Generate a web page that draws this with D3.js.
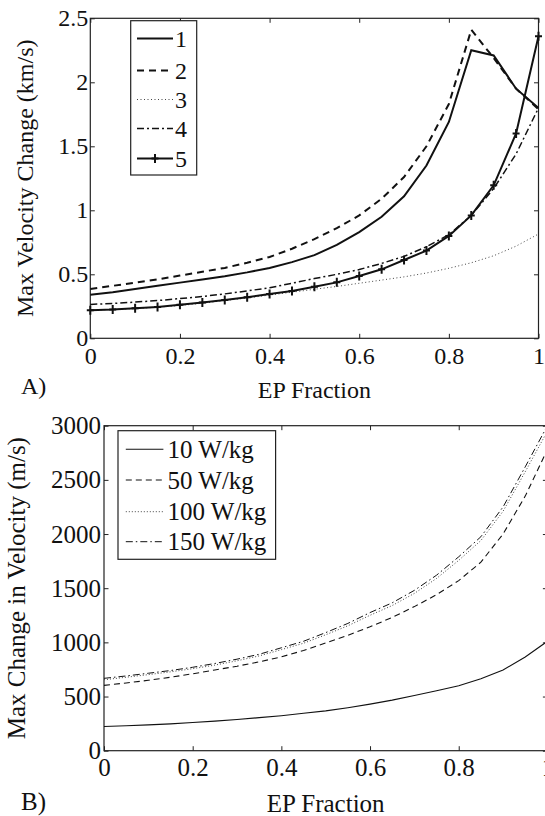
<!DOCTYPE html>
<html>
<head>
<meta charset="utf-8">
<script src="https://cdn.jsdelivr.net/npm/d3@7"></script>
<style>
  html, body { margin: 0; padding: 0; background: #fff; }
  svg { display: block; }
  text { font-family: "Liberation Serif", "Times New Roman", Times, serif; fill: #111; }
</style>
</head>
<body>
<svg id="fig" width="545" height="816"></svg>
<script>
// EP fraction sample points shared by both panels
const epFraction = [0, 0.05, 0.1, 0.15, 0.2, 0.25, 0.3, 0.35, 0.4, 0.45, 0.5,
                    0.55, 0.6, 0.65, 0.7, 0.75, 0.8, 0.85, 0.9, 0.95, 1];

// Panel A: max velocity change (km/s) for cases 1-5
const caseNames = ["1", "2", "3", "4", "5"];
const case1 = [0.34, 0.36, 0.385, 0.41, 0.435, 0.46, 0.485, 0.515, 0.55, 0.595, 0.65,
               0.73, 0.83, 0.95, 1.11, 1.35, 1.69, 2.25, 2.21, 1.95, 1.80];
const case2 = [0.385, 0.41, 0.435, 0.46, 0.49, 0.52, 0.55, 0.59, 0.635, 0.70, 0.775,
               0.86, 0.96, 1.09, 1.26, 1.50, 1.83, 2.41, 2.19, 1.95, 1.79];
const case3 = [0.22, 0.225, 0.232, 0.243, 0.256, 0.274, 0.295, 0.315, 0.338, 0.36, 0.383,
               0.405, 0.43, 0.455, 0.48, 0.51, 0.547, 0.59, 0.645, 0.72, 0.815];
const case4 = [0.265, 0.272, 0.283, 0.295, 0.31, 0.327, 0.347, 0.37, 0.395, 0.43, 0.467,
               0.50, 0.537, 0.585, 0.64, 0.715, 0.81, 0.96, 1.17, 1.44, 1.80];
const case5 = [0.22, 0.225, 0.235, 0.245, 0.263, 0.28, 0.30, 0.32, 0.346, 0.37, 0.403,
               0.437, 0.487, 0.539, 0.612, 0.685, 0.80, 0.96, 1.195, 1.60, 2.36];

// Panel B: max change in velocity (m/s) for four specific powers
const powerNames = ["10 W/kg", "50 W/kg", "100 W/kg", "150 W/kg"];
const power10 = [223, 230, 238, 248, 260, 273, 288, 305, 323, 345, 368,
                 397, 430, 467, 510, 553, 600, 665, 745, 865, 1010];
const power50 = [603, 625, 650, 678, 710, 745, 780, 820, 866, 925, 995,
                 1065, 1144, 1230, 1330, 1440, 1570, 1740, 2000, 2350, 2780];
const power100 = [655, 678, 702, 728, 757, 790, 830, 875, 933, 992, 1070,
                  1153, 1250, 1340, 1452, 1590, 1757, 1940, 2210, 2575, 2950];
const power150 = [668, 690, 715, 740, 770, 805, 845, 890, 950, 1010, 1090,
                  1175, 1275, 1365, 1480, 1620, 1790, 1975, 2250, 2620, 3000];

// Tick values and labels
const xTickValues = [0, 0.2, 0.4, 0.6, 0.8, 1];
const xTickLabels = ["0", "0.2", "0.4", "0.6", "0.8", "1"];
const yTickValuesA = [0, 0.5, 1, 1.5, 2, 2.5];
const yTickLabelsA = ["0", "0.5", "1", "1.5", "2", "2.5"];
const yTickValuesB = [0, 500, 1000, 1500, 2000, 2500, 3000];
const yTickLabelsB = ["0", "500", "1000", "1500", "2000", "2500", "3000"];

const svg = d3.select("#fig");
const serif = '"Liberation Serif", "Times New Roman", Times, serif';

function drawPanel(cfg) {
  const x = d3.scaleLinear().domain([0, 1]).range([cfg.left, cfg.right]);
  const y = d3.scaleLinear().domain(cfg.yDomain).range([cfg.bottom, cfg.top]);
  const g = svg.append("g");
  const tick = 4.5;

  const fmt = (vals, labels) => v => labels[vals.indexOf(v)];
  const styleText = a => a.selectAll("text").style("font-size", cfg.font + "px")
    .style("font-family", serif).attr("fill", "#111");

  // bottom axis with labels
  g.append("g").attr("transform", `translate(0,${cfg.bottom})`)
    .call(d3.axisBottom(x).tickValues(xTickValues).tickFormat(fmt(xTickValues, xTickLabels))
      .tickSizeInner(-tick).tickSizeOuter(0).tickPadding(cfg.xPad))
    .call(a => a.select(".domain").remove())
    .call(styleText);
  // top mirrored ticks
  g.append("g").attr("transform", `translate(0,${cfg.top})`)
    .call(d3.axisTop(x).tickValues(xTickValues).tickFormat("").tickSizeInner(-tick).tickSizeOuter(0))
    .call(a => a.select(".domain").remove());
  // left axis with labels
  g.append("g").attr("transform", `translate(${cfg.left},0)`)
    .call(d3.axisLeft(y).tickValues(cfg.yVals).tickFormat(fmt(cfg.yVals, cfg.yLabels))
      .tickSizeInner(-tick).tickSizeOuter(0).tickPadding(cfg.yPad))
    .call(a => a.select(".domain").remove())
    .call(styleText);
  // right mirrored ticks
  g.append("g").attr("transform", `translate(${cfg.right},0)`)
    .call(d3.axisRight(y).tickValues(cfg.yVals).tickFormat("").tickSizeInner(-tick).tickSizeOuter(0))
    .call(a => a.select(".domain").remove());
  g.selectAll(".tick line").attr("stroke", "#222");

  // frame
  g.append("rect").attr("x", cfg.left).attr("y", cfg.top)
    .attr("width", cfg.right - cfg.left).attr("height", cfg.bottom - cfg.top)
    .attr("fill", "none").attr("stroke", "#222").attr("stroke-width", 1.2);

  // series
  const line = d3.line().x((d, i) => x(epFraction[i])).y(d => y(d));
  const plus = (cx, cy) => `M${cx - 3.5},${cy}H${cx + 3.5}M${cx},${cy - 4.5}V${cy + 4.5}`;
  cfg.series.forEach(s => {
    g.append("path").datum(s.values).attr("d", line)
      .attr("fill", "none").attr("stroke", s.color || "#111")
      .attr("stroke-width", s.width).attr("stroke-dasharray", s.dash || null)
      .attr("stroke-linejoin", "miter");
    if (s.marker) {
      g.selectAll(null).data(s.values).enter().append("path")
        .attr("d", (d, i) => plus(x(epFraction[i]), y(d)))
        .attr("stroke", "#111").attr("stroke-width", 2).attr("fill", "none");
    }
  });

  // legend
  const L = cfg.legend;
  g.append("rect").attr("x", L.x0).attr("y", L.y0).attr("width", L.x1 - L.x0).attr("height", L.y1 - L.y0)
    .attr("fill", "#fff").attr("stroke", "#222").attr("stroke-width", 1.2);
  cfg.series.forEach((s, i) => {
    const yy = L.rows[i];
    g.append("line").attr("x1", L.lx0).attr("x2", L.lx1).attr("y1", yy).attr("y2", yy)
      .attr("stroke", s.color || "#111").attr("stroke-width", s.width)
      .attr("stroke-dasharray", s.dash || null);
    if (s.marker) {
      g.append("path").attr("d", plus((L.lx0 + L.lx1) / 2, yy))
        .attr("stroke", "#111").attr("stroke-width", 2);
    }
    g.append("text").attr("x", L.tx).attr("y", yy).attr("dy", "0.35em")
      .style("font-size", cfg.font + "px").text(s.name);
  });

  // axis titles and panel tag
  g.append("text").attr("x", (cfg.left + cfg.right) / 2).attr("y", cfg.xTitleY)
    .attr("text-anchor", "middle").style("font-size", cfg.titleFont + "px").text("EP Fraction");
  g.append("text").attr("transform", `translate(${cfg.yTitleX},${(cfg.top + cfg.bottom) / 2}) rotate(-90)`)
    .attr("text-anchor", "middle").style("font-size", cfg.titleFont + "px").text(cfg.yTitle);
  g.append("text").attr("x", cfg.tagX).attr("y", cfg.tagY)
    .style("font-size", cfg.titleFont + "px").text(cfg.tag);
}

drawPanel({
  left: 90.3, right: 538.5, top: 18.3, bottom: 338.3,
  yDomain: [0, 2.5], yVals: yTickValuesA, yLabels: yTickLabelsA,
  font: 24, titleFont: 24, xPad: 9, yPad: 2,
  xTitleY: 398, yTitleX: 33, yTitle: "Max Velocity Change (km/s)",
  tag: "A)", tagX: 21, tagY: 394,
  series: [
    { name: caseNames[0], values: case1, width: 2 },
    { name: caseNames[1], values: case2, width: 2, dash: "7,5" },
    { name: caseNames[2], values: case3, width: 1, dash: "1,2.5", color: "#444" },
    { name: caseNames[3], values: case4, width: 1.5, dash: "7,3,2,3" },
    { name: caseNames[4], values: case5, width: 2, marker: true }
  ],
  legend: { x0: 130.7, x1: 196.7, y0: 20.7, y1: 175, lx0: 137, lx1: 173, tx: 175,
            rows: [38.5, 70.5, 99.5, 128.5, 158.5] }
});

drawPanel({
  left: 104, right: 547.4, top: 425.7, bottom: 750.7,
  yDomain: [0, 3000], yVals: yTickValuesB, yLabels: yTickLabelsB,
  font: 25, titleFont: 25, xPad: 8, yPad: 3,
  xTitleY: 812, yTitleX: 25, yTitle: "Max Change in Velocity (m/s)",
  tag: "B)", tagX: 21, tagY: 810,
  series: [
    { name: powerNames[0], values: power10, width: 1.1 },
    { name: powerNames[1], values: power50, width: 1.1, dash: "6,4" },
    { name: powerNames[2], values: power100, width: 1, dash: "1,2", color: "#444" },
    { name: powerNames[3], values: power150, width: 1, dash: "7,3,1.5,3" }
  ],
  legend: { x0: 118, x1: 275.6, y0: 430.7, y1: 559.3, lx0: 125.8, lx1: 163.4, tx: 167.5,
            rows: [449.3, 480, 511.7, 541.7] }
});
</script>
</body>
</html>
